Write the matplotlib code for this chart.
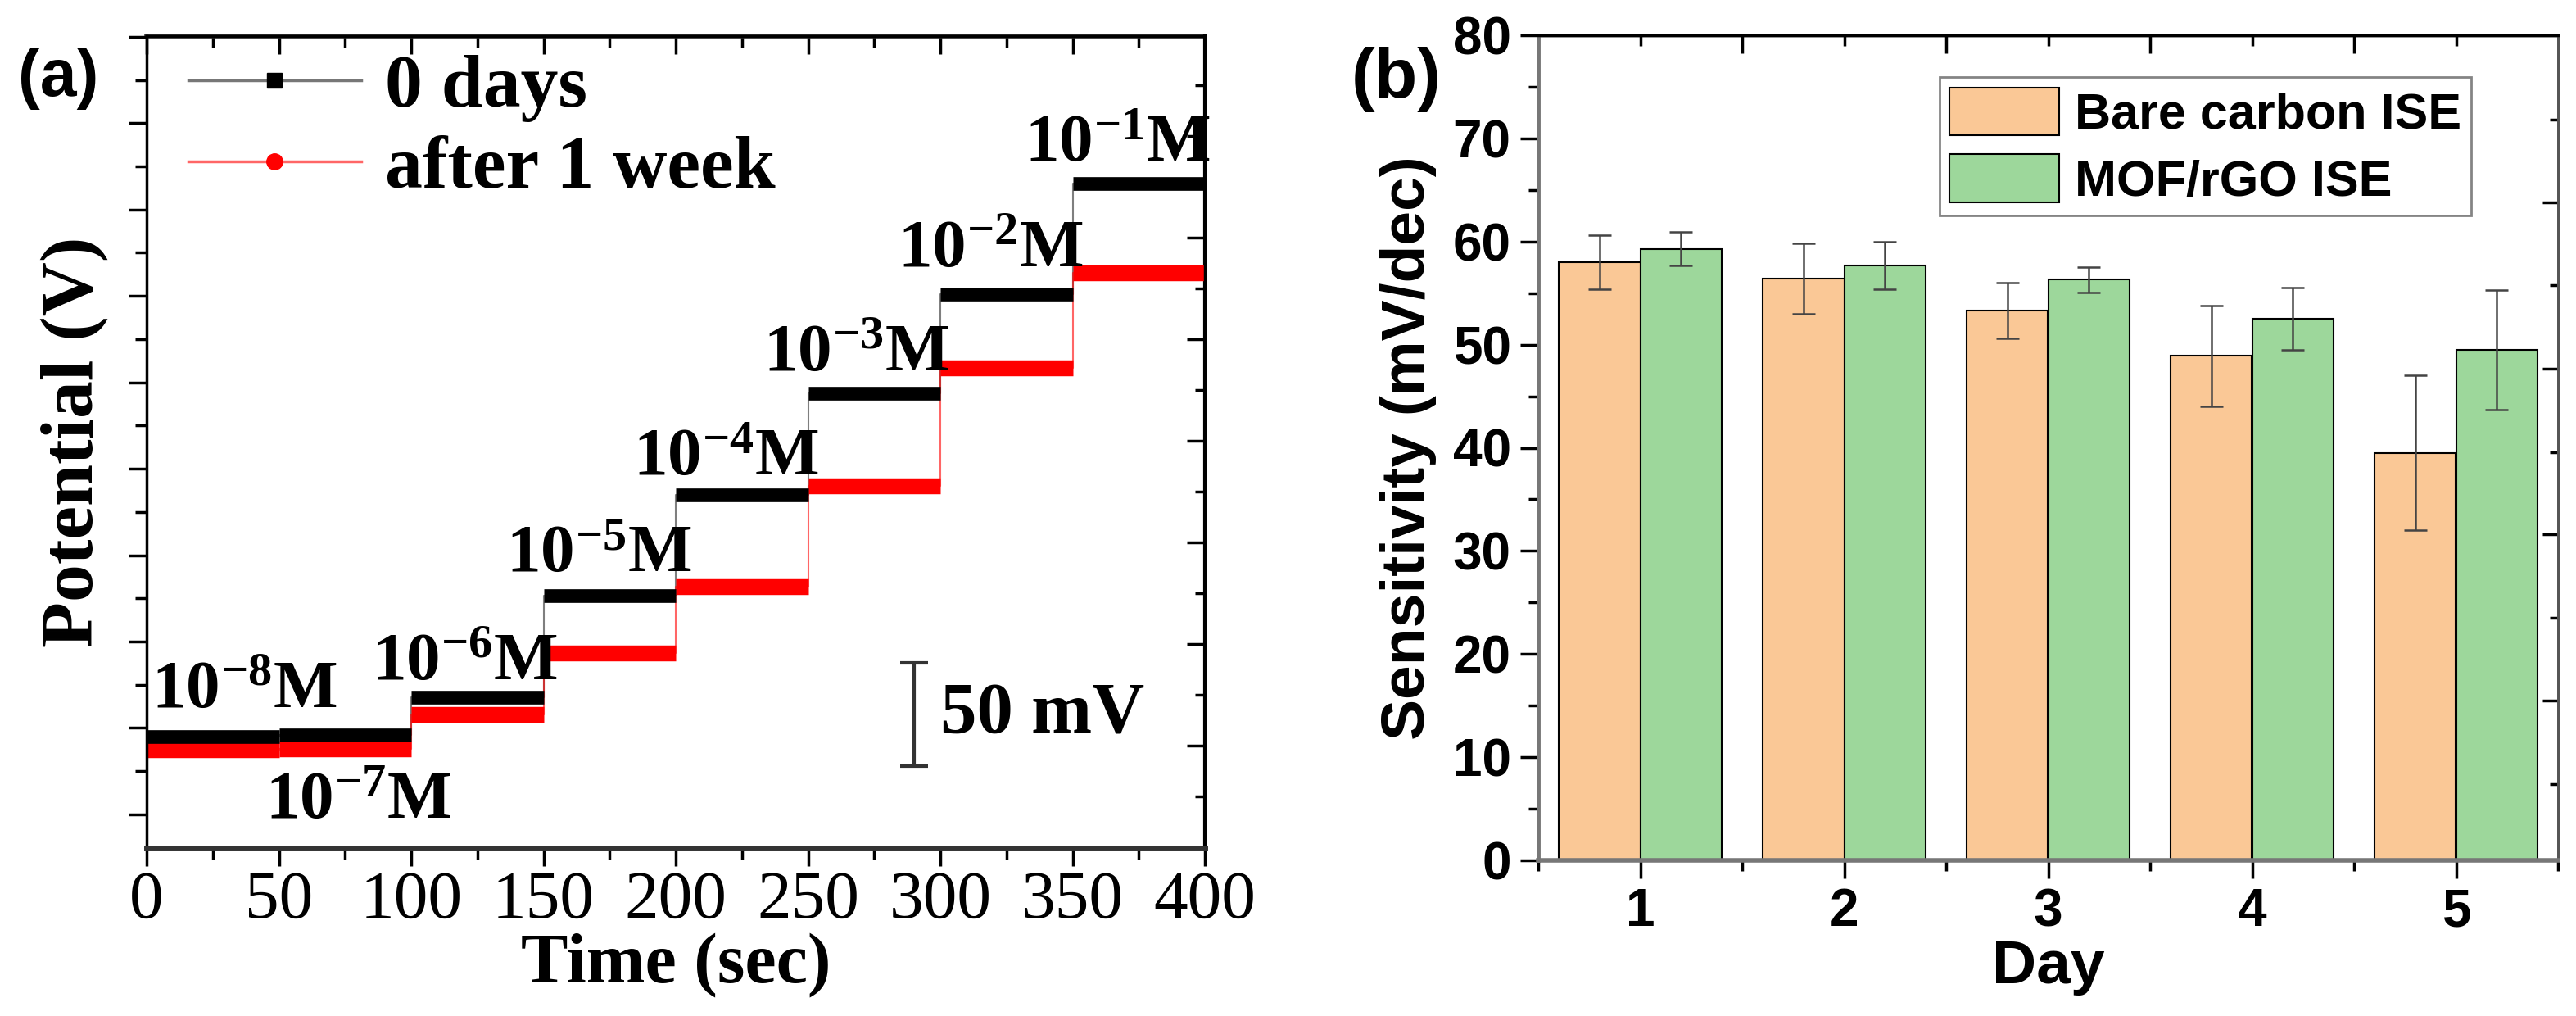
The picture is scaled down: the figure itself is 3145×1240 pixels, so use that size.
import numpy as np
import matplotlib.pyplot as plt
from matplotlib.lines import Line2D
from matplotlib.ticker import MultipleLocator

# panel (a): potential steps (mV, arbitrary offset), one level per 50 s interval
t_edges = [0, 50, 100, 150, 200, 250, 300, 350, 400]
lvl_0days = [36.0, 36.8, 54.2, 101.4, 147.7, 194.9, 240.9, 292.1]
lvl_1week = [30.0, 30.3, 46.1, 74.6, 105.5, 151.9, 206.7, 250.6]
conc_labels = ["-8", "-7", "-6", "-5", "-4", "-3", "-2", "-1"]
conc_x = [2, 45, 85, 136, 184, 233, 284, 332]
conc_y = [57, 6, 70, 120, 165, 213, 261, 310]

# panel (b): sensitivity
days = [1, 2, 3, 4, 5]
bare = [58.0, 56.4, 53.3, 48.9, 39.5]
bare_err = [2.6, 3.4, 2.7, 4.9, 7.5]
mof = [59.3, 57.7, 56.3, 52.5, 49.5]
mof_err = [1.6, 2.3, 1.25, 3.0, 5.8]

serif = ["Liberation Serif", "DejaVu Serif"]
sans = ["Liberation Sans", "DejaVu Sans"]
plt.rcParams['mathtext.fontset'] = 'custom'
plt.rcParams['mathtext.rm'] = 'Liberation Serif:bold'
plt.rcParams['mathtext.bf'] = 'Liberation Serif:bold'
plt.rcParams['mathtext.it'] = 'Liberation Serif:bold'

W, H = 3145, 1240
fig = plt.figure(figsize=(W / 100, H / 100), dpi=100)

# ---------------- (a)
ax1 = fig.add_axes([179 / W, 1 - 1035 / H, (1471 - 179) / W, (1035 - 44) / H])
ax1.plot(t_edges, lvl_0days + [lvl_0days[-1]], drawstyle='steps-post', color='black', lw=1.5, alpha=0.5)
ax1.plot(t_edges, lvl_1week + [lvl_1week[-1]], drawstyle='steps-post', color='red', lw=1.5, alpha=0.6)
ax1.hlines(lvl_1week, t_edges[:-1], t_edges[1:], color='red', lw=14)
ax1.hlines(lvl_0days, t_edges[:-1], t_edges[1:], color='black', lw=12)
for lab, x, y in zip(conc_labels, conc_x, conc_y):
    ax1.text(x, y, "10$^{" + lab + "}$M", fontsize=60, fontweight='bold', family=serif,
             ha='left', va='center')

# 50 mV scale bar
ax1.errorbar([290], [46.2], yerr=[23.9], color='#333333', lw=3, capsize=12, capthick=3)
ax1.text(300, 45.7, "50 mV", fontsize=64, fontweight='bold', family=serif, va='center', ha='left')

ax1.set_xlim(0, 400)
ax1.set_ylim(-15.6, 360.3)
ax1.xaxis.set_major_locator(MultipleLocator(50))
ax1.xaxis.set_minor_locator(MultipleLocator(25))
ax1.yaxis.set_major_locator(MultipleLocator(40))
ax1.yaxis.set_minor_locator(MultipleLocator(20))
ax1.tick_params(which='both', direction='out', width=2.5)
ax1.tick_params(which='major', length=16)
ax1.tick_params(which='minor', length=10)
ax1.tick_params(axis='y', labelleft=False)
ax1.tick_params(axis='x', labelsize=60, pad=4)
for lbl in ax1.get_xticklabels():
    lbl.set_family(serif)
for sp in ax1.spines.values():
    sp.set_linewidth(2.5)
ax1.spines['bottom'].set_linewidth(5)
ax1.spines['bottom'].set_color('#333333')

top1 = ax1.secondary_xaxis('top')
top1.xaxis.set_major_locator(MultipleLocator(50))
top1.xaxis.set_minor_locator(MultipleLocator(25))
top1.tick_params(which='both', direction='in', width=2.5, labeltop=False)
top1.tick_params(which='major', length=16)
top1.tick_params(which='minor', length=10)
top1.spines['top'].set_linewidth(4)
top1.spines['top'].set_color('#333333')

right_major = [313.9, 266.9, 219.9, 172.9, 125.9, 78.9, 31.9]
right_minor = [337.4, 290.4, 243.4, 196.4, 149.4, 102.4, 55.4, 8.4]
right1 = ax1.secondary_yaxis('right')
right1.set_yticks(right_major)
right1.set_yticks(right_minor, minor=True)
right1.tick_params(which='both', direction='in', width=2.5, labelright=False)
right1.tick_params(which='major', length=16)
right1.tick_params(which='minor', length=9)
right1.spines['right'].set_linewidth(3)

ax1.set_xlabel("Time (sec)", fontsize=62, fontweight='bold', family=serif, labelpad=0)
ax1.set_ylabel("Potential (V)", fontsize=66, fontweight='bold', family=serif, labelpad=18)

leg_handles = [
    Line2D([], [], color='#777777', lw=2.5, marker='s', markersize=13, mfc='black', mec='black'),
    Line2D([], [], color='#ff6666', lw=2.5, marker='o', markersize=14, mfc='red', mec='red'),
]
ax1.legend(leg_handles, ["0 days", "after 1 week"], loc='upper left', bbox_to_anchor=(0.0395, 0.978),
           frameon=False, handlelength=2.3, handletextpad=0.32, labelspacing=0.17,
           borderpad=0, borderaxespad=0,
           prop={'family': serif, 'weight': 'bold', 'size': 66})
fig.text(22 / W, 1 - 96 / H, "(a)", fontsize=58, fontweight='bold', family=sans, va='center')

# ---------------- (b)
ax2 = fig.add_axes([1878 / W, 1 - 1050 / H, (3123 - 1878) / W, (1050 - 43) / H])
x = np.array(days)
w = 0.4
ax2.bar(x - w / 2, bare, w, color='#FAC896', edgecolor='black', lw=1.5, label='Bare carbon ISE')
ax2.bar(x + w / 2, mof, w, color='#9DD79B', edgecolor='black', lw=1.5, label='MOF/rGO ISE')
ax2.errorbar(x - w / 2, bare, yerr=bare_err, fmt='none', ecolor='#444444', elinewidth=1.8, capsize=10, capthick=1.8)
ax2.errorbar(x + w / 2, mof, yerr=mof_err, fmt='none', ecolor='#444444', elinewidth=1.8, capsize=10, capthick=1.8)

ax2.set_xlim(0.5, 5.5)
ax2.set_ylim(0, 80)
ax2.set_xticks(days)
ax2.xaxis.set_minor_locator(MultipleLocator(0.5))
ax2.yaxis.set_major_locator(MultipleLocator(10))
ax2.yaxis.set_minor_locator(MultipleLocator(5))
ax2.tick_params(which='both', direction='out', width=2.5)
ax2.tick_params(which='major', length=16)
ax2.tick_params(which='minor', length=9)
ax2.tick_params(labelsize=46, pad=8)
for lbl in ax2.get_xticklabels() + ax2.get_yticklabels():
    lbl.set_family(sans)
    lbl.set_fontweight('bold')
ax2.spines['left'].set_color('#777777')
ax2.spines['bottom'].set_color('#777777')
ax2.spines['left'].set_linewidth(3.5)
ax2.spines['bottom'].set_linewidth(4)
ax2.spines['top'].set_linewidth(2.5)
ax2.spines['right'].set_linewidth(2)
ax2.spines['right'].set_color('#555555')

top2 = ax2.secondary_xaxis('top')
top2.set_xticks([1.5, 2.5, 3.5, 4.5])
top2.set_xticks(days, minor=True)
top2.tick_params(which='both', direction='in', width=2.5, labeltop=False)
top2.tick_params(which='major', length=16)
top2.tick_params(which='minor', length=9)
top2.spines['top'].set_linewidth(2.5)

right2 = ax2.secondary_yaxis('right')
right2.set_yticks([63.8, 47.7, 31.6, 15.5])
right2.set_yticks([71.8, 55.8, 39.6, 23.5, 7.4], minor=True)
right2.tick_params(which='both', direction='in', width=2.5, labelright=False)
right2.tick_params(which='major', length=14)
right2.tick_params(which='minor', length=7)
right2.spines['right'].set_linewidth(2)
right2.spines['right'].set_color('#555555')

ax2.set_xlabel("Day", fontsize=54, fontweight='bold', family=sans, labelpad=2)
ax2.set_ylabel("Sensitivity (mV/dec)", fontsize=54, fontweight='bold', family=sans, labelpad=14)
leg = ax2.legend(loc='upper right', bbox_to_anchor=(0.915, 0.949), borderaxespad=0, fancybox=False,
                 edgecolor='#666666', handlelength=2.2, handleheight=1.1, handletextpad=0.3,
                 labelspacing=0.3, borderpad=0.2, prop={'family': sans, 'weight': 'bold', 'size': 44})
leg.get_frame().set_linewidth(2)
fig.text(1650 / W, 1 - 97 / H, "(b)", fontsize=62, fontweight='bold', family=sans, va='center')

fig.savefig("out.png", dpi=100)
